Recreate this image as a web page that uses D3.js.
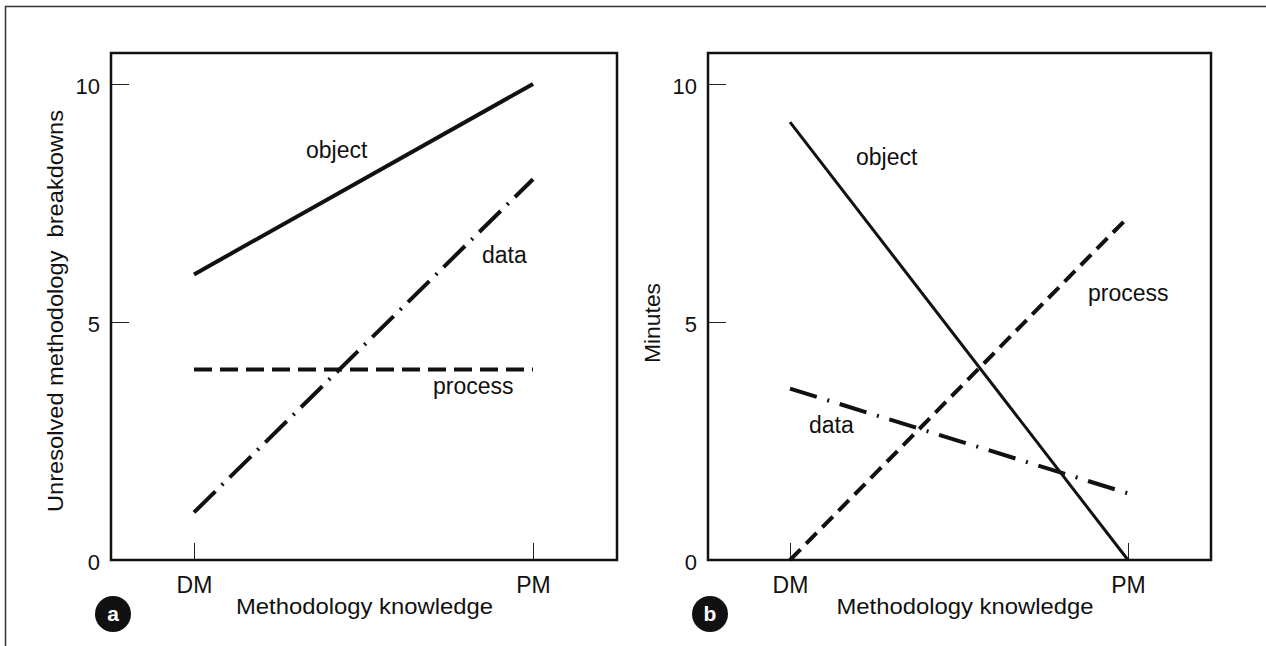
<!DOCTYPE html>
<html>
<head>
<meta charset="utf-8">
<script src="https://cdn.jsdelivr.net/npm/d3@7"></script>
<style>
  body { margin: 0; background: #fff; }
  svg text { font-family: "Liberation Sans", Arial, Helvetica, sans-serif; fill: #111; }
</style>
</head>
<body>
<div id="container"></div>
<script>
"use strict";

const width = 1266;
const height = 646;

// categories on the x axis and y tick values
const categories = ["DM", "PM"];
const yTicks = [0, 5, 10];
const seriesNames = ["object", "data", "process"];

// panel a: unresolved methodology breakdowns
const breakdownsObject = [6, 10];
const breakdownsData = [1, 8];
const breakdownsProcess = [4, 4];

// panel b: minutes
const minutesObject = [9.2, 0];
const minutesData = [3.6, 1.4];
const minutesProcess = [0, 7.2];

// line style per series
const styles = {
    object:  { dash: null },
    data:    { dash: "30,9,2,9" },
    process: { dash: "18,8" }
};

const panels = [
    {
        letter: "a",
        yTitle: "Unresolved methodology  breakdowns",
        yTitleLen: 402,
        left: 111, right: 617, dm: 194, pm: 533,
        series: { object: breakdownsObject, data: breakdownsData, process: breakdownsProcess },
        widths: { object: 4, data: 4, process: 4 },
        dashes: {},
        // label anchors: [x offset from the box left, baseline y]
        labels: { object: [195, 158], data: [371, 263], process: [322, 394] }
    },
    {
        letter: "b",
        yTitle: "Minutes",
        yTitleLen: 80,
        left: 708, right: 1211, dm: 790, pm: 1128,
        series: { object: minutesObject, data: minutesData, process: minutesProcess },
        widths: { object: 3, data: 4, process: 4 },
        dashes: { process: "15,8", data: "28,11,2,11" },
        labels: { object: [148, 165], data: [101, 433], process: [380, 301] }
    }
];

const plotTop = 53, plotBottom = 560;

const svg = d3.select("#container").append("svg")
    .attr("width", width)
    .attr("height", height);

// outer frame (only top and left edges show in the scan)
svg.append("path")
    .attr("d", "M5.5," + height + "V6.5H" + width)
    .attr("fill", "none")
    .attr("stroke", "#333")
    .attr("stroke-width", 1.5);

const y = d3.scaleLinear().domain([0, 10]).range([plotBottom, 84]);

panels.forEach(p => {
    const x = d3.scalePoint().domain(categories).range([p.dm, p.pm]);
    const g = svg.append("g");

    // y axis ticks point inward, labels outside
    g.append("g")
        .attr("transform", "translate(" + p.left + ",0)")
        .call(d3.axisLeft(y).tickValues(yTicks).tickSize(-18).tickPadding(11).tickFormat(d3.format("d")))
        .call(a => a.select(".domain").remove())
        .call(a => a.selectAll("line").attr("stroke", "#222").attr("stroke-width", 1))
        .call(a => a.selectAll("text").attr("font-size", 22).attr("dy", "0.45em")
            .attr("font-family", "Liberation Sans, Arial, sans-serif"));

    // x axis: short upward ticks
    g.append("g")
        .attr("transform", "translate(0," + plotBottom + ")")
        .call(d3.axisBottom(x).tickSize(-17).tickPadding(17))
        .call(a => a.select(".domain").remove())
        .call(a => a.selectAll("line").attr("stroke", "#222").attr("stroke-width", 1))
        .call(a => a.selectAll("text").attr("font-size", 23)
            .attr("font-family", "Liberation Sans, Arial, sans-serif"));

    // plot box
    g.append("rect")
        .attr("x", p.left)
        .attr("y", plotTop)
        .attr("width", p.right - p.left)
        .attr("height", plotBottom - plotTop)
        .attr("fill", "none")
        .attr("stroke", "#111")
        .attr("stroke-width", 2.5);

    const line = d3.line()
        .x((d, i) => x(categories[i]))
        .y(d => y(d));

    seriesNames.forEach(name => {
        g.append("path")
            .datum(p.series[name])
            .attr("d", line)
            .attr("fill", "none")
            .attr("stroke", "#111")
            .attr("stroke-width", p.widths[name])
            .attr("stroke-dasharray", p.dashes[name] || styles[name].dash);

        const lab = p.labels[name];
        g.append("text")
            .attr("x", p.left + lab[0])
            .attr("y", lab[1])
            .attr("font-size", 23)
            .text(name);
    });

    // rotated y title
    const yMid = p.letter === "a" ? 311 : 323;
    g.append("text")
        .attr("transform", "translate(" + (p.left - 48) + "," + yMid + ") rotate(-90)")
        .attr("text-anchor", "middle")
        .attr("font-size", 22)
        .attr("textLength", p.yTitleLen)
        .attr("lengthAdjust", "spacingAndGlyphs")
        .style("white-space", "pre")
        .text(p.yTitle);

    // x title
    g.append("text")
        .attr("x", (p.dm + p.pm) / 2 + (p.letter === "a" ? 1 : 6))
        .attr("y", 614)
        .attr("text-anchor", "middle")
        .attr("font-size", 22)
        .attr("textLength", 257)
        .attr("lengthAdjust", "spacingAndGlyphs")
        .text("Methodology knowledge");

    // circled panel letter
    const cx = p.left + 2;
    g.append("circle")
        .attr("cx", cx)
        .attr("cy", 614)
        .attr("r", 18)
        .attr("fill", "#111");
    g.append("text")
        .attr("x", cx)
        .attr("y", 621)
        .attr("text-anchor", "middle")
        .attr("font-size", 21)
        .attr("font-weight", "bold")
        .style("fill", "#fff")
        .text(p.letter);
});
</script>
</body>
</html>
